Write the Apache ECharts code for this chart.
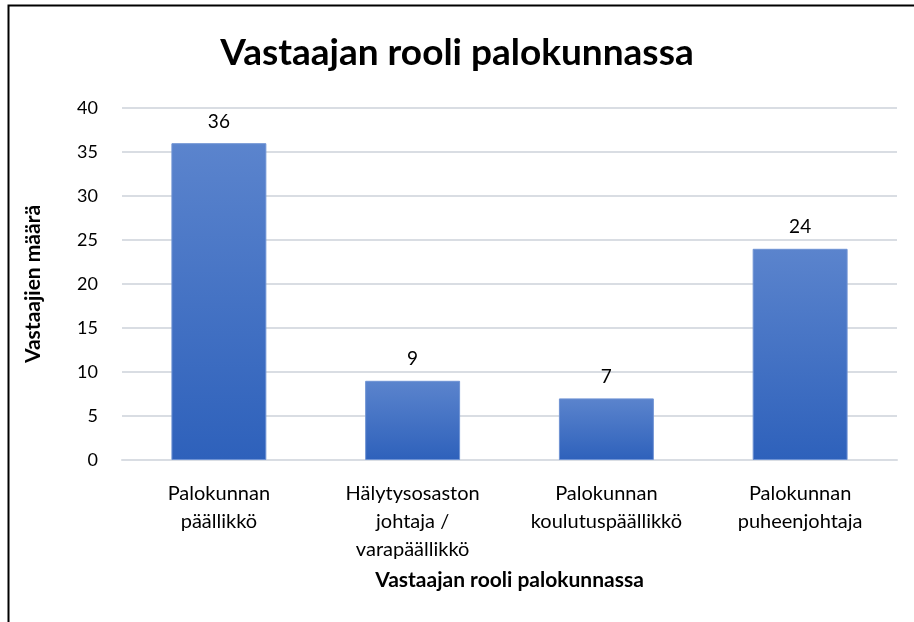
<!DOCTYPE html>
<html>
<head>
<meta charset="utf-8">
<script src="https://cdn.jsdelivr.net/npm/echarts@6/dist/echarts.min.js"></script>
<style>
  html, body { margin: 0; padding: 0; background: #fff; }
  #main { width: 914px; height: 622px; }
</style>
</head>
<body>
<div id="main"></div>
<script>
// kategoriat ja vastaajien määrät
var categories = [
  'Palokunnan\npäällikkö',
  'Hälytysosaston\njohtaja /\nvarapäällikkö',
  'Palokunnan\nkoulutuspäällikkö',
  'Palokunnan\npuheenjohtaja'
];
var counts = [36, 9, 7, 24];
var yTicks = [0, 5, 10, 15, 20, 25, 30, 35, 40];

var chart = echarts.init(document.getElementById('main'));
chart.setOption({
  animation: false,
  title: {
    text: 'Vastaajan rooli palokunnassa',
    left: 'center',
    top: 30,
    textStyle: { fontFamily: 'Lato', fontWeight: 'bold', fontSize: 37, color: '#000' }
  },
  graphic: [{
    type: 'polyline',
    shape: { points: [[8.5, 640], [8.5, 5.5], [930, 5.5]] },
    style: { stroke: '#000', lineWidth: 2, fill: null }
  }],
  grid: { left: 122, right: 17, top: 108, bottom: 162 },
  xAxis: {
    type: 'category',
    data: categories,
    name: 'Vastaajan rooli palokunnassa',
    nameLocation: 'middle',
    nameGap: 110,
    nameTextStyle: { fontFamily: 'Lato', fontWeight: 'bold', fontSize: 21, color: '#000' },
    axisLine: { lineStyle: { color: '#d9dde3', width: 2 } },
    axisTick: { show: false },
    axisLabel: {
      interval: 0,
      margin: 20,
      fontFamily: 'Lato',
      fontSize: 20,
      lineHeight: 28,
      color: '#000'
    }
  },
  yAxis: {
    type: 'value',
    min: yTicks[0],
    max: yTicks[yTicks.length - 1],
    interval: 5,
    name: 'Vastaajien määrä',
    nameLocation: 'middle',
    nameGap: 78,
    nameTextStyle: { fontFamily: 'Lato', fontWeight: 'bold', fontSize: 21, color: '#000' },
    axisLine: { show: false },
    axisTick: { show: false },
    splitLine: { lineStyle: { color: '#d9dde3', width: 2 } },
    axisLabel: { margin: 24, fontFamily: 'Lato', fontSize: 18, color: '#000' }
  },
  series: [{
    type: 'bar',
    data: counts,
    barWidth: '49%',
    itemStyle: {
      color: new echarts.graphic.LinearGradient(0, 0, 0, 1, [
        { offset: 0, color: '#5b84cd' },
        { offset: 1, color: '#2e61bb' }
      ]),
      borderColor: '#6f93d4',
      borderWidth: 1
    },
    label: {
      show: true,
      position: 'top',
      distance: 12,
      fontFamily: 'Lato',
      fontSize: 19,
      color: '#000'
    }
  }]
});
</script>
</body>
</html>
